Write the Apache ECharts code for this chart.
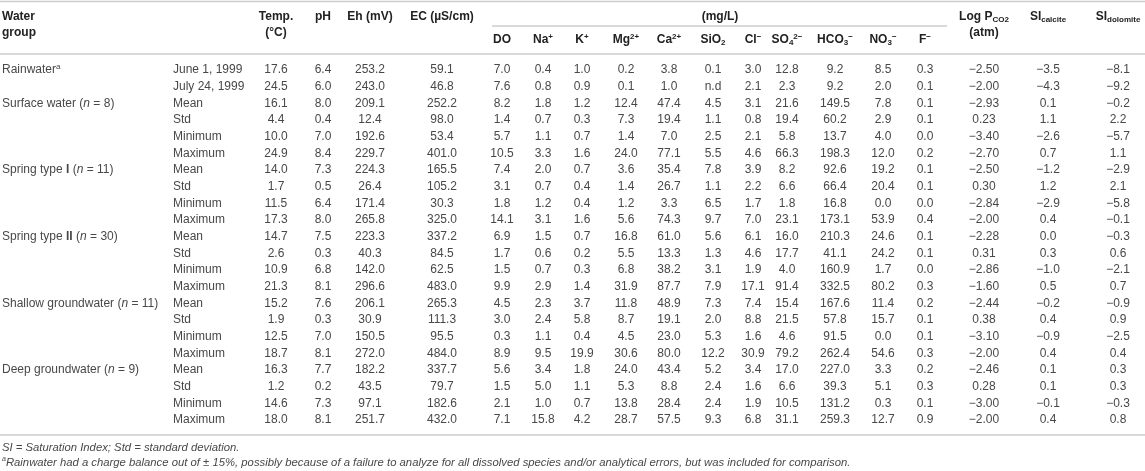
<!DOCTYPE html>
<html>
<head>
<meta charset="utf-8">
<script src="https://cdn.jsdelivr.net/npm/echarts@6/dist/echarts.min.js"></script>
<style>
  html, body { margin: 0; padding: 0; background: #fff; }
  #main { width: 1145px; height: 471px; }
</style>
</head>
<body>
<div id="main"></div>
<script>
// ---- datos de la tabla ----
const grupos = [
    'Rainwater{sup|a}',
    'Surface water ({it|n} = 8)',
    'Spring type {b|I} ({it|n} = 11)',
    'Spring type {b|II} ({it|n} = 30)',
    'Shallow groundwater ({it|n} = 11)',
    'Deep groundwater ({it|n} = 9)'
];
const inicioGrupo = [0, 2, 6, 10, 14, 18];
const filas = ['June 1, 1999', 'July 24, 1999',
    'Mean', 'Std', 'Minimum', 'Maximum',
    'Mean', 'Std', 'Minimum', 'Maximum',
    'Mean', 'Std', 'Minimum', 'Maximum',
    'Mean', 'Std', 'Minimum', 'Maximum',
    'Mean', 'Std', 'Minimum', 'Maximum'];

const temp = [17.6, 24.5, 16.1, 4.4, 10.0, 24.9, 14.0, 1.7, 11.5, 17.3, 14.7, 2.6, 10.9, 21.3, 15.2, 1.9, 12.5, 18.7, 16.3, 1.2, 14.6, 18.0];
const ph = [6.4, 6.0, 8.0, 0.4, 7.0, 8.4, 7.3, 0.5, 6.4, 8.0, 7.5, 0.3, 6.8, 8.1, 7.6, 0.3, 7.0, 8.1, 7.7, 0.2, 7.3, 8.1];
const eh = [253.2, 243.0, 209.1, 12.4, 192.6, 229.7, 224.3, 26.4, 171.4, 265.8, 223.3, 40.3, 142.0, 296.6, 206.1, 30.9, 150.5, 272.0, 182.2, 43.5, 97.1, 251.7];
const ec = [59.1, 46.8, 252.2, 98.0, 53.4, 401.0, 165.5, 105.2, 30.3, 325.0, 337.2, 84.5, 62.5, 483.0, 265.3, 111.3, 95.5, 484.0, 337.7, 79.7, 182.6, 432.0];
const dOx = [7.0, 7.6, 8.2, 1.4, 5.7, 10.5, 7.4, 3.1, 1.8, 14.1, 6.9, 1.7, 1.5, 9.9, 4.5, 3.0, 0.3, 8.9, 5.6, 1.5, 2.1, 7.1];
const na = [0.4, 0.8, 1.8, 0.7, 1.1, 3.3, 2.0, 0.7, 1.2, 3.1, 1.5, 0.6, 0.7, 2.9, 2.3, 2.4, 1.1, 9.5, 3.4, 5.0, 1.0, 15.8];
const k = [1.0, 0.9, 1.2, 0.3, 0.7, 1.6, 0.7, 0.4, 0.4, 1.6, 0.7, 0.2, 0.3, 1.4, 3.7, 5.8, 0.4, 19.9, 1.8, 1.1, 0.7, 4.2];
const mg = [0.2, 0.1, 12.4, 7.3, 1.4, 24.0, 3.6, 1.4, 1.2, 5.6, 16.8, 5.5, 6.8, 31.9, 11.8, 8.7, 4.5, 30.6, 24.0, 5.3, 13.8, 28.7];
const ca = [3.8, 1.0, 47.4, 19.4, 7.0, 77.1, 35.4, 26.7, 3.3, 74.3, 61.0, 13.3, 38.2, 87.7, 48.9, 19.1, 23.0, 80.0, 43.4, 8.8, 28.4, 57.5];
const sio2 = [0.1, 'n.d', 4.5, 1.1, 2.5, 5.5, 7.8, 1.1, 6.5, 9.7, 5.6, 1.3, 3.1, 7.9, 7.3, 2.0, 5.3, 12.2, 5.2, 2.4, 2.4, 9.3];
const cl = [3.0, 2.1, 3.1, 0.8, 2.1, 4.6, 3.9, 2.2, 1.7, 7.0, 6.1, 4.6, 1.9, 17.1, 7.4, 8.8, 1.6, 30.9, 3.4, 1.6, 1.9, 6.8];
const so4 = [12.8, 2.3, 21.6, 19.4, 5.8, 66.3, 8.2, 6.6, 1.8, 23.1, 16.0, 17.7, 4.0, 91.4, 15.4, 21.5, 4.6, 79.2, 17.0, 6.6, 10.5, 31.1];
const hco3 = [9.2, 9.2, 149.5, 60.2, 13.7, 198.3, 92.6, 66.4, 16.8, 173.1, 210.3, 41.1, 160.9, 332.5, 167.6, 57.8, 91.5, 262.4, 227.0, 39.3, 131.2, 259.3];
const no3 = [8.5, 2.0, 7.8, 2.9, 4.0, 12.0, 19.2, 20.4, 0.0, 53.9, 24.6, 24.2, 1.7, 80.2, 11.4, 15.7, 0.0, 54.6, 3.3, 5.1, 0.3, 12.7];
const f = [0.3, 0.1, 0.1, 0.1, 0.0, 0.2, 0.1, 0.1, 0.0, 0.4, 0.1, 0.1, 0.0, 0.3, 0.2, 0.1, 0.1, 0.3, 0.2, 0.3, 0.1, 0.9];
const logPco2 = [-2.50, -2.00, -2.93, 0.23, -3.40, -2.70, -2.50, 0.30, -2.84, -2.00, -2.28, 0.31, -2.86, -1.60, -2.44, 0.38, -3.10, -2.00, -2.46, 0.28, -3.00, -2.00];
const siCalcita = [-3.5, -4.3, 0.1, 1.1, -2.6, 0.7, -1.2, 1.2, -2.9, 0.4, 0.0, 0.3, -1.0, 0.5, -0.2, 0.4, -0.9, 0.4, 0.1, 0.1, -0.1, 0.4];
const siDolomita = [-8.1, -9.2, -0.2, 2.2, -5.7, 1.1, -2.9, 2.1, -5.8, -0.1, -0.3, 0.6, -2.1, 0.7, -0.9, 0.9, -2.5, 0.4, 0.3, 0.3, -0.3, 0.8];

const columnas = [temp, ph, eh, ec, dOx, na, k, mg, ca, sio2, cl, so4, hco3, no3, f, logPco2, siCalcita, siDolomita];
const decimales = [1, 1, 1, 1, 1, 1, 1, 1, 1, 1, 1, 1, 1, 1, 1, 2, 1, 1];
const cabecera = ['Temp.', 'pH', 'Eh (mV)', 'EC (µS/cm)', 'DO', 'Na{sup|+}', 'K{sup|+}', 'Mg{sup|2+}', 'Ca{sup|2+}',
    'SiO{sub|2}', 'Cl{sup|−}', 'SO{sub|4}{sup|2−}', 'HCO{sub|3}{sup|−}', 'NO{sub|3}{sup|−}', 'F{sup|−}',
    'Log P{sub|CO2}', 'SI{sub|calcite}', 'SI{sub|dolomite}'];
const notas = [
    'SI = Saturation Index; Std = standard deviation.',
    '{sup|a}Rainwater had a charge balance out of ± 15%, possibly because of a failure to analyze for all dissolved species and/or analytical errors, but was included for comparison.'
];

// ---- maquetación (pixeles) ----
const W = 1145;
const colX = [276, 323, 370, 442, 502, 543, 582, 626, 669, 713, 753, 787, 835, 883, 925, 984, 1048, 1118];
const xGrupo = 2, xFila = 173;
const filaAlto = 16.67, filaTop = 70;
const gris = '#484848', negro = '#222', linea = '#cccccc';
const FONT = '"Liberation Sans", Arial, sans-serif';

const rich = {
    sup: { fontSize: 8, lineHeight: 10, verticalAlign: 'top', fontFamily: FONT },
    sub: { fontSize: 8, lineHeight: 6, verticalAlign: 'bottom', fontFamily: FONT },
    it: { fontStyle: 'italic', fontSize: 12, fontFamily: FONT },
    b: { fontWeight: 'bold', fontSize: 12, fontFamily: FONT }
};
const richB = {
    sup: { fontSize: 8, lineHeight: 10, verticalAlign: 'top', fontWeight: 'bold', fontFamily: FONT },
    sub: { fontSize: 8, lineHeight: 6, verticalAlign: 'bottom', fontWeight: 'bold', fontFamily: FONT }
};

function fmt(v, d) {
    if (typeof v === 'string') return v;
    const s = Math.abs(v).toFixed(d);
    return v < 0 ? '−' + s : s;
}

// celdas del cuerpo
const celdas = [];
grupos.forEach((g, i) => celdas.push({ x: xGrupo, r: inicioGrupo[i], text: g, align: 'left' }));
filas.forEach((t, r) => celdas.push({ x: xFila, r: r, text: t, align: 'left' }));
columnas.forEach((col, c) => {
    col.forEach((v, r) => celdas.push({ x: colX[c], r: r, text: fmt(v, decimales[c]), align: 'center' }));
});

// cabeceras y reglas
function txt(x, y, text, align) {
    return {
        type: 'text', x: x, y: y, silent: true,
        style: {
            text: text, fill: negro, align: align || 'center', verticalAlign: 'middle',
            font: 'bold 12px ' + FONT, rich: richB, lineHeight: 14
        }
    };
}
function regla(x1, x2, y) {
    return { type: 'line', silent: true, shape: { x1: x1, y1: y, x2: x2, y2: y }, style: { stroke: linea, lineWidth: 1.5 } };
}

const graficos = [
    regla(0, W, 1.5),
    regla(492, 947, 26),
    regla(0, W, 54),
    regla(0, W, 435),
    txt(xGrupo, 16.7, 'Water', 'left'),
    txt(xGrupo, 33, 'group', 'left'),
    txt(720, 16.7, '(mg/L)')
];
cabecera.forEach((h, c) => {
    // columnas de iones van en la segunda fila de cabecera
    const y = (c >= 4 && c < 15) ? 40 : 16.7;
    graficos.push(txt(colX[c], y, h));
});
graficos.push(txt(colX[0], 33, '(°C)'));
graficos.push(txt(colX[15], 33, '(atm)'));
notas.forEach((n, i) => {
    graficos.push({
        type: 'text', x: 2, y: 448 + i * 14.5, silent: true,
        style: {
            text: n, fill: gris, align: 'left', verticalAlign: 'middle',
            font: 'italic 11.3px ' + FONT, lineHeight: 14,
            rich: { sup: { fontSize: 7, lineHeight: 10, verticalAlign: 'top', fontStyle: 'italic', fontFamily: FONT } }
        }
    });
});

const chart = echarts.init(document.getElementById('main'), null, { renderer: 'canvas' });
chart.setOption({
    animation: false,
    backgroundColor: '#fff',
    grid: { left: 0, right: 0, top: filaTop - filaAlto / 2, height: filaAlto * filas.length },
    xAxis: { type: 'value', min: 0, max: W, show: false },
    yAxis: { type: 'category', data: filas.map((t, i) => i), inverse: true, show: false },
    series: [{
        type: 'custom',
        coordinateSystem: 'cartesian2d',
        data: celdas.map(c => [c.x, c.r]),
        renderItem: (params, api) => {
            const c = celdas[params.dataIndex];
            const p = api.coord([api.value(0), api.value(1)]);
            return {
                type: 'text', x: p[0], y: p[1],
                style: {
                    text: c.text, fill: gris, align: c.align, verticalAlign: 'middle',
                    font: '12px ' + FONT, lineHeight: 14, rich: rich
                }
            };
        }
    }],
    graphic: graficos
});
window.addEventListener('resize', () => chart.resize());
</script>
</body>
</html>
